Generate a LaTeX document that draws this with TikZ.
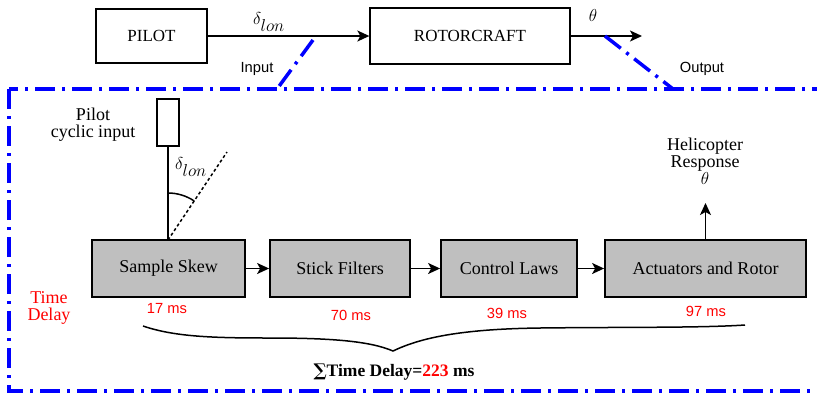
\documentclass[tikz,border=0pt]{standalone}
\usepackage{fontspec}
\setmainfont{Liberation Serif}
\newfontfamily\arialf{Liberation Sans}
\newfontfamily\dvserif{DejaVu Serif}
\usetikzlibrary{arrows.meta}
\begin{document}
\begin{tikzpicture}[x=1pt,y=-1pt,
  topbox/.style={draw, line width=1.3pt, minimum width=#1, minimum height=54pt, inner sep=0pt, font=\fontsize{17}{20}\selectfont},
  blockbox/.style={draw, line width=1.8pt, fill=gray!50, minimum width=#1, minimum height=57pt, inner sep=0pt, font=\fontsize{18}{21}\selectfont},
  arr/.style={line width=1.5pt, -{Stealth[length=12pt,width=11pt,inset=3pt]}},
  bluedd/.style={blue, line width=3.5pt, dash pattern=on 20pt off 7pt on 3pt off 7pt},
  delay/.style={red, font=\arialf\fontsize{14.7}{17}\selectfont},
  sanslbl/.style={font=\arialf\fontsize{14.7}{17}\selectfont},
  serlbl/.style={align=center, inner sep=0pt, font=\fontsize{18}{17}\selectfont},
  mathlbl/.style={inner sep=0pt, font=\fontsize{17}{20}\selectfont}
]
\useasboundingbox (0,0) rectangle (817,392);

% top row
\node[topbox=111pt] (pilot) at (151.5,36) {PILOT};
\node[topbox=200pt, minimum height=56pt] (rotor) at (470,36) {ROTORCRAFT};
\draw[arr] (pilot) -- (rotor);
\node[mathlbl] (dl1) at (269,22) {$\delta_{\textstyle lon}$};
\coordinate (outEnd) at (642,36);
\draw[arr] (rotor.east) -- (outEnd);
\node[mathlbl] (th1) at (593,15) {$\theta$};

% frame and links
\coordinate (fr1) at (9,89);
\coordinate (fr2) at (840,391);
\draw[bluedd] (fr1) rectangle (fr2);
\coordinate (inA) at (313,40);
\coordinate (inB) at (277,89);
\draw[bluedd] (inA) -- (inB);
\coordinate (oA) at (605,36);
\coordinate (oB) at (673,89);
\draw[bluedd] (oA) -- (oB);
\node[sanslbl] (inl) at (257,69) {Input};
\node[sanslbl] (outl) at (702,69) {Output};

% blocks
\node[blockbox=153pt] (ss) at (168.5,268.5) {Sample Skew};
\node[blockbox=140pt] (sf) at (340,268.5) {Stick Filters};
\node[blockbox=136pt] (cl) at (509,268.5) {Control Laws};
\node[blockbox=201pt] (act) at (705.5,268.5) {Actuators and Rotor};
\draw[arr] (ss) -- (sf);
\draw[arr] (sf) -- (cl);
\draw[arr] (cl) -- (act);

% stick
\node[draw, line width=1.3pt, minimum width=22pt, minimum height=47pt, inner sep=0pt] (stick) at (168,122.5) {};
\coordinate (pivot) at (168,240);
\draw[line width=1.5pt] (stick.south) -- (pivot);
\coordinate (tilt) at (227,152);
\draw[line width=1.5pt, dash pattern=on 3pt off 2.5pt] (pivot) -- (tilt);
\draw[line width=1.5pt] ([yshift=47pt]pivot) arc[start angle=-90, end angle=-56, radius=47];
\node[mathlbl] (dl2) at (191,167) {$\delta_{\textstyle lon}$};
\node[serlbl] (pci) at (93,125) {Pilot\\cyclic input};

% response
\coordinate (resp) at (705.5,203);
\draw[arr] (act.north) -- (resp);
\node[serlbl] (heli) at (705,161) {Helicopter\\Response\\$\theta$};

% delays
\node[serlbl, red] (td) at (49,307.5) {Time\\Delay};
\node[delay] (d1) at (167,309) {17 ms};
\node[delay] (d2) at (351,315) {70 ms};
\node[delay] (d3) at (507,313) {39 ms};
\node[delay] (d4) at (706,311) {97 ms};

% brace
\coordinate (bL) at (143,326);
\coordinate (bM1) at (270,338);
\coordinate (bT) at (393,351);
\coordinate (bM2) at (540,328);
\coordinate (bR) at (745,325);
\draw[line width=1.5pt] (bL) .. controls (175,337) and (215,338) .. (bM1)
  .. controls (330,338) and (370,341) .. (bT)
  .. controls (420,338) and (460,329) .. (bM2)
  .. controls (620,327) and (700,328) .. (bR);
\node[font=\bfseries\fontsize{17.5}{20}\selectfont, inner sep=0pt] (sum) at (394,372) {{\dvserif\bfseries ∑}Time Delay=\textcolor{red}{223} ms};
\end{tikzpicture}
\end{document}
